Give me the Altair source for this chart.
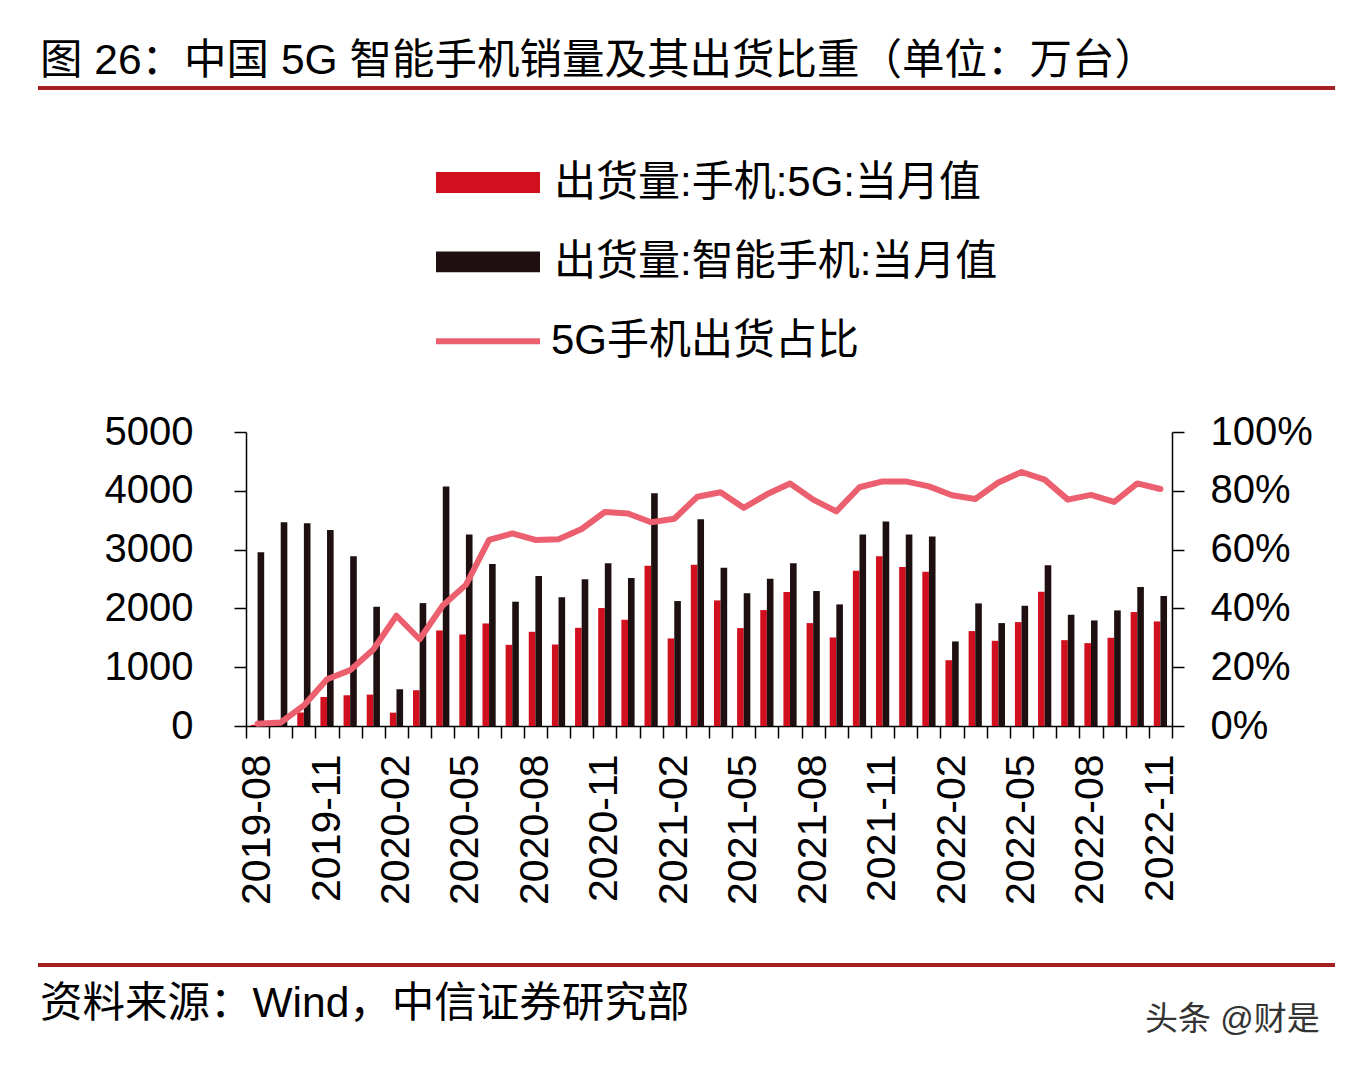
import altair as alt
import pandas as pd

months = [f"{y}-{m:02d}" for y in (2019, 2020, 2021, 2022) for m in range(1, 13)]
months = months[months.index("2019-08"):months.index("2022-11") + 1]

red_name = "出货量:手机:5G:当月值"
black_name = "出货量:智能手机:当月值"
line_name = "5G手机出货占比"

ship_5g = [20, 45, 230, 494, 523, 534, 227, 608, 1625, 1557,
           1744, 1381, 1602, 1386, 1670, 2006, 1807, 2727, 1489, 2744,
           2136, 1665, 1972, 2278, 1750, 1506, 2642, 2886, 2705, 2625,
           1119, 1614, 1449, 1767, 2284, 1460, 1409, 1500, 1938, 1778]
ship_smart = [2955, 3466, 3450, 3335, 2886, 2028, 625, 2090, 4074, 3256,
              2756, 2114, 2551, 2188, 2494, 2767, 2517, 3960, 2125, 3517,
              2693, 2256, 2506, 2767, 2295, 2068, 3256, 3477, 3256, 3222,
              1438, 2085, 1750, 2045, 2733, 1892, 1795, 1966, 2364, 2210]
share_5g = [0.8, 1.2, 7.0, 15.9, 19.0, 26.0, 37.5, 29.5, 41.0, 48.0,
            63.3, 65.5, 63.3, 63.5, 67.0, 72.8, 72.3, 69.3, 70.5, 78.0,
            79.5, 74.2, 78.8, 82.5, 77.0, 73.0, 81.2, 83.2, 83.2, 81.5,
            78.5, 77.2, 82.8, 86.4, 83.8, 77.0, 78.6, 76.2, 82.5, 80.6]

title_text = "图 26：中国 5G 智能手机销量及其出货比重（单位：万台）"
source_text = "资料来源：Wind，中信证券研究部"
mark_text = "头条 @财是"

FONT = "Liberation Sans, Arial, Noto Sans CJK SC"
RED = "#D0101F"
BLACK = "#1E1010"
PINK = "#EC5F6E"
RULE = "#A51E22"

bars_df = pd.DataFrame({
    "month": months * 2,
    "series": [red_name] * len(months) + [black_name] * len(months),
    "value": ship_5g + ship_smart,
})
line_df = pd.DataFrame({
    "month": months,
    "ratio": [v / 100 for v in share_5g],
    "lname": [line_name] * len(months),
})

x_enc = alt.X(
    "month:N",
    sort=months,
    scale=alt.Scale(paddingInner=0, paddingOuter=0),
    axis=alt.Axis(
        title=None,
        labelAngle=-90,
        labelFontSize=41,
        labelFont=FONT,
        labelColor="black",
        labelPadding=16,
        labelOverlap=False,
        labelExpr="indexof(['02','05','08','11'], substring(datum.value, 5, 7)) >= 0 ? datum.value : ''",
        tickBand="extent",
        tickSize=12,
        tickColor="black",
        tickWidth=1.5,
        domainColor="black",
        domainWidth=1.5,
        grid=False,
    ),
)

bars = alt.Chart(bars_df).mark_bar().encode(
    x=x_enc,
    xOffset=alt.XOffset(
        "series:N",
        sort=[red_name, black_name],
        scale=alt.Scale(domain=[red_name, black_name], paddingInner=0, paddingOuter=0.75),
    ),
    y=alt.Y(
        "value:Q",
        scale=alt.Scale(domain=[0, 5000]),
        axis=alt.Axis(
            title=None,
            values=[0, 1000, 2000, 3000, 4000, 5000],
            format="d",
            labelFontSize=40,
            labelFont=FONT,
            labelColor="black",
            labelPadding=41,
            tickSize=12,
            tickColor="black",
            tickWidth=1.5,
            domainColor="black",
            domainWidth=1.5,
            grid=False,
        ),
    ),
    color=alt.Color(
        "series:N",
        scale=alt.Scale(domain=[red_name, black_name], range=[RED, BLACK]),
        legend=alt.Legend(
            title=None,
            orient="none",
            legendX=190,
            legendY=-273.5,
            direction="vertical",
            padding=0,
            symbolType="M-1,-0.2L1,-0.2L1,0.2L-1,0.2Z",
            symbolSize=10816,
            symbolStrokeWidth=0,
            symbolOpacity=1,
            clipHeight=48,
            rowPadding=31.4,
            labelFontSize=42,
            labelFont=FONT,
            labelColor="black",
            labelOffset=14,
            labelLimit=700,
        ),
    ),
)

line = alt.Chart(line_df).mark_line(strokeWidth=6, strokeCap="round", strokeJoin="round").encode(
    x=alt.X("month:N", sort=months),
    y=alt.Y(
        "ratio:Q",
        scale=alt.Scale(domain=[0, 1]),
        axis=alt.Axis(
            title=None,
            orient="right",
            format=".0%",
            values=[0, 0.2, 0.4, 0.6, 0.8, 1.0],
            labelFontSize=40,
            labelFont=FONT,
            labelColor="black",
            labelPadding=26,
            tickSize=12,
            tickColor="black",
            tickWidth=1.5,
            domainColor="black",
            domainWidth=1.5,
            grid=False,
        ),
    ),
    stroke=alt.Stroke(
        "lname:N",
        scale=alt.Scale(domain=[line_name], range=[PINK]),
        legend=alt.Legend(
            title=None,
            orient="none",
            legendX=187,
            legendY=-114.7,
            direction="vertical",
            padding=0,
            symbolType="stroke",
            symbolSize=10816,
            symbolStrokeWidth=6,
            clipHeight=48,
            labelFontSize=42,
            labelFont=FONT,
            labelColor="black",
            labelOffset=8,
            labelLimit=700,
        ),
    ),
)

deco_df = pd.DataFrame({"t": [title_text], "s": [source_text], "w": [mark_text]})

title = alt.Chart(deco_df).mark_text(
    align="left", baseline="middle", fontSize=42.5, font=FONT, color="black"
).encode(x=alt.value(-206), y=alt.value(-371), text="t:N")

source = alt.Chart(deco_df).mark_text(
    align="left", baseline="middle", fontSize=42.5, font=FONT, color="black"
).encode(x=alt.value(-206), y=alt.value(572), text="s:N")

watermark = alt.Chart(deco_df).mark_text(
    align="left", baseline="middle", fontSize=33, font=FONT, color="#333333"
).encode(x=alt.value(899), y=alt.value(588), text="w:N")

rule_top = alt.Chart(deco_df).mark_rule(color=RULE, strokeWidth=4).encode(
    x=alt.value(-208), x2=alt.value(1089), y=alt.value(-344)
)
rule_bottom = alt.Chart(deco_df).mark_rule(color=RULE, strokeWidth=4).encode(
    x=alt.value(-208), x2=alt.value(1089), y=alt.value(533)
)

chart = (
    alt.layer(bars, line, title, source, watermark, rule_top, rule_bottom)
    .resolve_scale(y="independent")
    .properties(
        width=926,
        height=294,
        autosize=alt.AutoSizeParams(type="none"),
        padding={"left": 238, "top": 424, "right": 176, "bottom": 332},
        background="white",
    )
    .configure_view(stroke=None)
)

chart.save("out.html", embed_options={"renderer": "svg", "actions": False})
